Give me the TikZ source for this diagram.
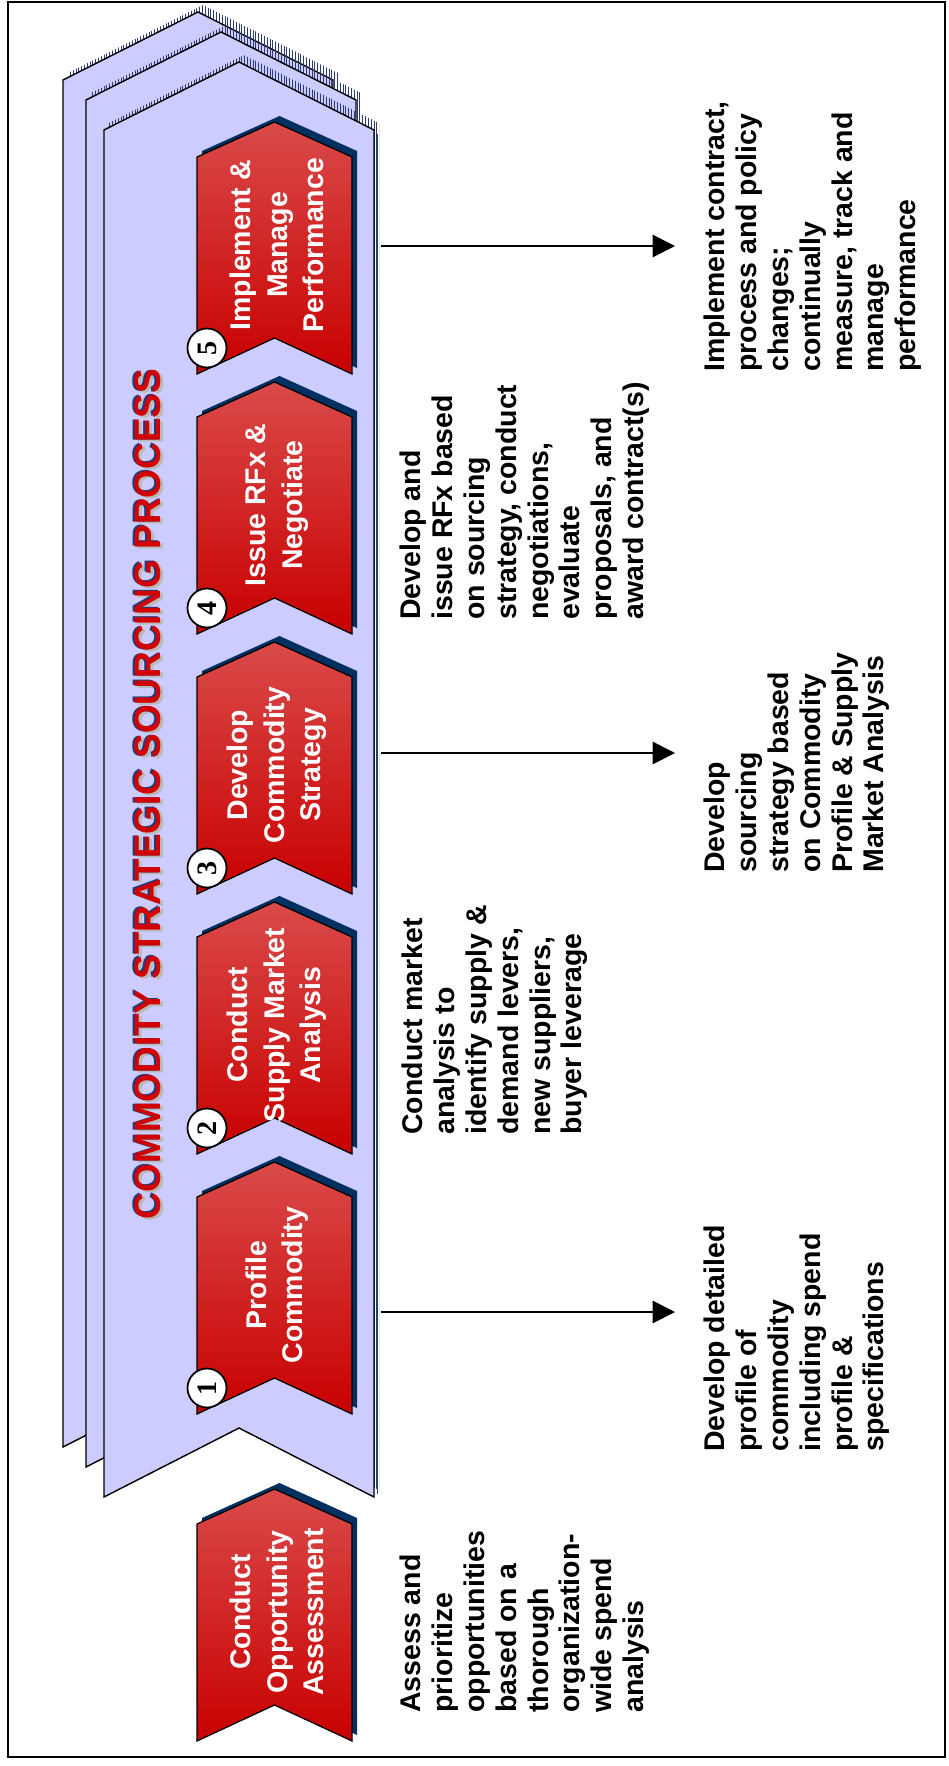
\documentclass[tikz,border=0pt]{standalone}
\usepackage{fontspec}
\setmainfont{Liberation Sans}
\newfontfamily\numfont{Liberation Serif}
\usepackage{tikz}
\usetikzlibrary{arrows.meta,patterns.meta}
\definecolor{pagefill}{RGB}{204,204,255}
\definecolor{steptop}{RGB}{218,74,74}
\definecolor{stepbot}{RGB}{200,0,0}
\definecolor{stepshadow}{RGB}{0,48,96}
\definecolor{titlered}{RGB}{210,0,0}
\definecolor{titleblue}{RGB}{30,60,130}
\definecolor{edgeblue}{RGB}{40,60,110}
% 页面与台阶的轮廓(像素坐标)
\newcommand{\pagepath}[2]{(#1,#2) -- ++(135,-68) -- ++(135,68) -- ++(0,1367) -- ++(-135,-69) -- ++(-135,69) -- cycle}
\newcommand{\steppath}[1]{(197,#1+35) -- (274.5,#1) -- (352,#1+35) -- (352,#1+252) -- (274.5,#1+216) -- (197,#1+252) -- cycle}

\begin{document}
\begin{tikzpicture}[x=0.02cm, y=-0.02cm,
        pg/.style={draw=black, line width=0.8pt, fill=pagefill},
        pgshadow/.style={pattern={Lines[angle=90, distance=1.6pt, line width=0.4pt]}, pattern color=edgeblue},
        stepbox/.style={draw=black, line width=0.7pt, top color=steptop, bottom color=stepbot},
        steplabel/.style={rotate=90, text=white, align=center, font=\fontsize{16.2}{20.8}\selectfont\bfseries},
        title/.style={rotate=90, font=\fontsize{21}{25}\selectfont\bfseries},
        desc/.style={rotate=90, anchor=north west, inner sep=0pt, align=left, font=\fontsize{16.2}{18.1}\selectfont\bfseries},
        num/.style={circle, draw=black, line width=1pt, fill=white, minimum size=0.78cm, inner sep=0pt, rotate=90, font=\numfont\fontsize{16}{16}\selectfont\bfseries},
        arr/.style={-{Triangle[length=0.45cm, width=0.45cm]}, line width=1pt, shorten >=0.58cm}
    ]
        \useasboundingbox (0,0) rectangle (948,1766);
        \draw[line width=1.6pt] (8,2) rectangle (945,1757);

        % 三层页面
        \foreach \l/\s in {63/80, 86/100, 104/130}{
            \fill[pgshadow, shift={(5,-7)}] \pagepath{\l}{\s};
            \draw[pg] \pagepath{\l}{\s};
        }
        \draw[edgeblue, line width=0.5pt] (377,134) -- (377,1494);

        % 标题
        \node[title, text=gray!55] at (150.5,796) {COMMODITY STRATEGIC SOURCING PROCESS};
        \node[title, text=titleblue] at (146,793.5) {COMMODITY STRATEGIC SOURCING PROCESS};
        \node[title, text=titlered] (title) at (148,794) {COMMODITY STRATEGIC SOURCING PROCESS};

        % 五个步骤
        \foreach \t/\n/\txt in {122/5/{Implement \&\\Manage\\Performance},
                                382/4/{Issue RFx \&\\Negotiate},
                                642/3/{Develop\\Commodity\\Strategy},
                                902/2/{Conduct\\Supply Market\\Analysis},
                                1162/1/{Profile\\Commodity}}{
            \fill[stepshadow, shift={(5,-6)}] \steppath{\t};
            \draw[stepbox] \steppath{\t};
            \node[steplabel] (step\n) at (277,\t+123) {\txt};
            \node[num] (num\n) at (207,\t+226) {\n};
        }

        % 机会评估
        \fill[stepshadow, shift={(5,-6)}] \steppath{1489};
        \draw[stepbox] \steppath{1489};
        \node[steplabel] (step0) at (277,1612) {Conduct\\Opportunity\\Assessment};

        % 说明文字
        \node[desc] (d0) at (400,1713) {Assess and\\prioritize\\opportunities\\based on a\\thorough\\organization-\\wide spend\\analysis};
        \node[desc] (d2) at (402,1135) {Conduct market\\analysis to\\identify supply \&\\demand levers,\\new suppliers,\\buyer leverage};
        \node[desc] (d4) at (400,620) {Develop and\\issue RFx based\\on sourcing\\strategy, conduct\\negotiations,\\evaluate\\proposals, and\\award contract(s)};
        \node[desc] (d1) at (704,1452) {Develop detailed\\profile of\\commodity\\including spend\\profile \&\\specifications};
        \node[desc] (d3) at (704,873) {Develop\\sourcing\\strategy based\\on Commodity\\Profile \& Supply\\Market Analysis};
        \node[desc] (d5) at (704,372) {Implement contract,\\process and policy\\changes;\\continually\\measure, track and\\manage\\performance};

        % 箭头
        \coordinate (a5) at (381,246);
        \coordinate (a3) at (381,753);
        \coordinate (a1) at (381,1312);
        \draw[arr] (a5) -- (a5 -| d5.north);
        \draw[arr] (a3) -- (a3 -| d3.north);
        \draw[arr] (a1) -- (a1 -| d1.north);
    \end{tikzpicture}
\end{document}
